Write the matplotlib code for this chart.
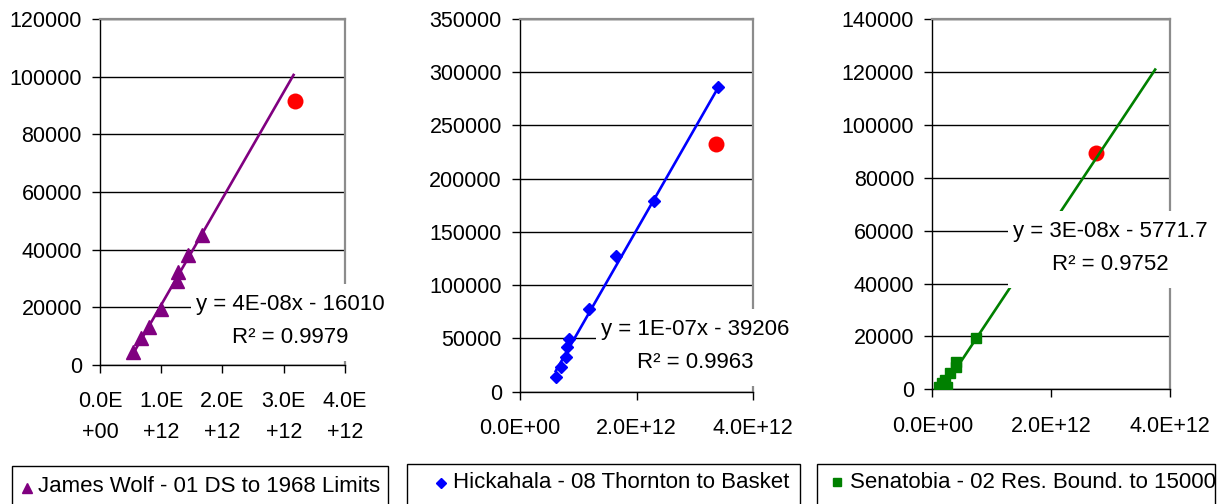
import matplotlib
matplotlib.use("Agg")
from matplotlib import pyplot as plt
from matplotlib.patches import Rectangle
from matplotlib.lines import Line2D
from matplotlib.transforms import IdentityTransform
import numpy as np

plt.rcParams["font.family"] = ["Liberation Sans", "DejaVu Sans"]

# James Wolf - 01 DS to 1968 Limits
jw_x = np.array([0.544, 0.664, 0.805, 0.991, 1.25, 1.27, 1.44, 1.66]) * 1e12
jw_y = [4600, 9250, 13300, 19400, 29000, 32300, 38200, 45100]
jw_red = (3.18e12, 91600)
jw_slope, jw_icpt, jw_r2 = 3.69e-8, -16010, 0.9979
jw_trend_end = 3.16e12

# Hickahala - 08 Thornton to Basket
hk_x = np.array([0.612, 0.703, 0.783, 0.80, 0.846, 1.184, 1.646, 2.30, 3.40]) * 1e12
hk_y = [14100, 22900, 32900, 42300, 49200, 77400, 127700, 179000, 285800]
hk_red = (3.355e12, 232600)
hk_slope, hk_icpt, hk_r2 = 9.56e-8, -39206, 0.9963
hk_trend_end = 3.40e12

# Senatobia - 02 Res. Bound. to 15000
sn_x = np.array([0.118, 0.158, 0.214, 0.24, 0.30, 0.394, 0.394, 0.73]) * 1e12
sn_y = [1000, 2300, 3500, 750, 6000, 8600, 10400, 19300]
sn_red = (2.75e12, 89300)
sn_slope, sn_icpt, sn_r2 = 3.38e-8, -5771.7, 0.9752
sn_trend_end = 3.75e12

W, H = 1225, 504
fig = plt.figure(figsize=(12.25, 5.04), dpi=100)
renderer = fig.canvas.get_renderer()


def px_rect(left, top, right, bottom):
    return [left / W, (H - bottom) / H, (right - left) / W, (bottom - top) / H]


def panel(rect, x, y, red, slope, icpt, r2, xend, color, marker, ms,
          ymax, ystep, xticks, xlabels, label_pos, name, box, mk_pos, txt_pos):
    ax = fig.add_axes(px_rect(*rect))
    ax.set_axisbelow(True)
    ax.plot(*red, "o", color="#ff0000", ms=11.5, mec="none", zorder=2)
    xs = np.array([min(x), xend])
    ax.plot(xs, slope * xs + icpt, color=color, lw=1.9, zorder=3)
    ax.plot(x, y, linestyle="none", marker=marker, ms=ms, color=color,
            mec=color, zorder=3)

    ax.set_xlim(0, 4e12)
    ax.set_ylim(0, ymax)
    ax.set_yticks(np.arange(0, ymax + 1, ystep))
    ax.set_yticklabels([f"{v:d}" for v in np.arange(0, ymax + 1, ystep)])
    ax.set_xticks(xticks)
    ax.set_xticklabels(xlabels, linespacing=1.6)
    ax.tick_params(axis="both", direction="out", length=6, width=1,
                   labelsize=15.5, colors="black")
    ax.tick_params(axis="y", pad=7)
    ax.tick_params(axis="x", pad=13)
    ax.yaxis.grid(True, color="black", lw=1)
    for s in ("left", "bottom"):
        ax.spines[s].set_color("black")
        ax.spines[s].set_linewidth(1)
    for s in ("top", "right"):
        ax.spines[s].set_color("#8c8c8c")
        ax.spines[s].set_linewidth(1.6)

    # trendline equation on a white patch that hides grid, spine and line
    sign = "-" if icpt < 0 else "+"
    eq = f"y = {slope:.0E}x {sign} {abs(icpt):g}\nR\u00b2 = {r2:.4f}"
    t = ax.text(label_pos[0], label_pos[1], eq, fontsize=16, ha="center",
                va="center", multialignment="center", linespacing=1.75,
                clip_on=False, zorder=6)
    bb = t.get_window_extent(renderer)
    ax.add_patch(Rectangle((bb.x0 - 5, bb.y0 - 13), bb.width + 10,
                           bb.height + 23, transform=IdentityTransform(),
                           fc="white", ec="none", clip_on=False, zorder=5.5))

    # legend box, cut off by the bottom of the figure
    bl, bt, br = box
    fig.add_artist(Rectangle((bl / W, -0.05), (br - bl) / W, (H - bt) / H + 0.05,
                             transform=fig.transFigure, fill=False,
                             ec="black", lw=1))
    fig.add_artist(Line2D([mk_pos[0] / W], [(H - mk_pos[1]) / H],
                          transform=fig.transFigure, marker=marker,
                          ms=ms * 0.75, color=color, linestyle="none"))
    fig.text(txt_pos[0] / W, (H - txt_pos[1]) / H, name, fontsize=16,
             ha="left", va="center")
    return ax


panel((100, 19, 345, 365), jw_x, jw_y, jw_red, jw_slope, jw_icpt, jw_r2,
      jw_trend_end, "#800080", "^", 10, 120000, 20000,
      np.arange(0, 4.1e12, 1e12),
      ["0.0E\n+00", "1.0E\n+12", "2.0E\n+12", "3.0E\n+12", "4.0E\n+12"],
      (3.10e12, 15200), "James Wolf - 01 DS to 1968 Limits",
      (12, 466, 388), (27, 488), (38, 486))

panel((520, 19, 753.3, 391.7), hk_x, hk_y, hk_red, hk_slope, hk_icpt, hk_r2,
      hk_trend_end, "#0000ff", "D", 6.5, 350000, 50000,
      [0, 2e12, 4e12], ["0.0E+00", "2.0E+12", "4.0E+12"],
      (3.01e12, 43000), "Hickahala - 08 Thornton to Basket",
      (407, 464, 800), (441, 483), (453, 482))

panel((932.3, 19.3, 1170, 389.3), sn_x, sn_y, sn_red, sn_slope, sn_icpt, sn_r2,
      sn_trend_end, "#008000", "s", 7, 140000, 20000,
      [0, 2e12, 4e12], ["0.0E+00", "2.0E+12", "4.0E+12"],
      (2.99e12, 53600), "Senatobia - 02 Res. Bound. to 15000",
      (817, 464, 1215), (837, 482), (850, 482))

fig.savefig("out.png", dpi=100)
